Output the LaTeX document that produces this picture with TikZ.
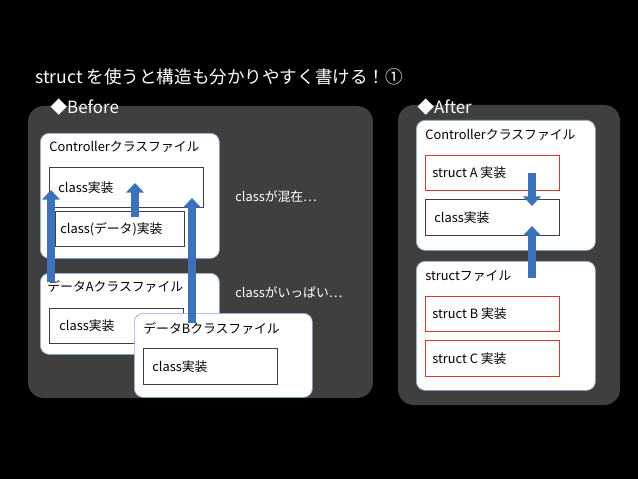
\documentclass[tikz,border=0pt]{standalone}
\usepackage{fontspec}
\setmainfont{Noto Sans CJK JP}
\usetikzlibrary{arrows.meta}
\definecolor{panelgray}{HTML}{3F3F3F}
\definecolor{arrowblue}{HTML}{3C72BA}
\definecolor{boxred}{HTML}{D03A3A}

\tikzset{
  panel/.style={fill=panelgray,rounded corners=9pt},
  filebox/.style={draw=arrowblue!60,fill=white,rounded corners=5pt,anchor=north west},
  implbox/.style={draw=black!75,fill=white,anchor=north west,inner sep=0pt},
  structbox/.style={implbox,draw=boxred},
  lbl/.style={font=\fontsize{7.3}{8}\selectfont,anchor=west,inner sep=0pt},
  note/.style={lbl,text=white},
  bigarrow/.style={draw=arrowblue,line width=4.6pt,-{Triangle[width=10pt,length=5.5pt]}}
}

\begin{document}
\begin{tikzpicture}[x=0.02cm,y=-0.02cm]
  \useasboundingbox[fill=black] (0,0) rectangle (638,479);
  % title
  \node[note,font=\fontsize{10}{12}\selectfont] (title) at (35,77) {struct を使うと構造も分かりやすく書ける！①};

  % before panel
  \fill[panel] (28,106) rectangle (373,398);
  \node[note,font=\fontsize{9.6}{11}\selectfont] (before) at (50,107) {◆Before};

  \node[filebox,minimum width=179*0.02cm,minimum height=125*0.02cm] (ctrl) at (40,133) {};
  \node[lbl] (ctrlt) at (49,147) {Controllerクラスファイル};
  \node[implbox,minimum width=154*0.02cm,minimum height=40*0.02cm] (cls) at (49,167) {};
  \node[lbl] at ([xshift=9*0.02cm]cls.west) {class実装};
  \node[implbox,minimum width=129*0.02cm,minimum height=35*0.02cm] (clsdata) at (55,211) {};
  \node[lbl] at ([xshift=5*0.02cm]clsdata.west) {class(データ)実装};

  \node[filebox,minimum width=179*0.02cm,minimum height=81*0.02cm] (fileA) at (40,273) {};
  \node[lbl] (fileAt) at (47,287) {データAクラスファイル};
  \node[implbox,minimum width=134*0.02cm,minimum height=35*0.02cm] (clsA) at (49,308) {};
  \node[lbl] at ([xshift=10*0.02cm]clsA.west) {class実装};

  \node[filebox,minimum width=178*0.02cm,minimum height=84*0.02cm] (fileB) at (134,313) {};
  \node[lbl] (fileBt) at (143,329) {データBクラスファイル};
  \node[implbox,minimum width=134*0.02cm,minimum height=36*0.02cm] (clsB) at (143,348) {};
  \node[lbl] at ([xshift=9*0.02cm]clsB.west) {class実装};

  \node[note] (mixed) at (235,197) {classが混在…};
  \node[note] (many) at (235,292) {classがいっぱい…};

  % after panel
  \fill[panel] (398,105) rectangle (620,405);
  \node[note,font=\fontsize{9.6}{11}\selectfont] (after) at (417,107) {◆After};

  \node[filebox,minimum width=179*0.02cm,minimum height=130*0.02cm] (ctrl2) at (416,120) {};
  \node[lbl] at (425,135) {Controllerクラスファイル};
  \node[structbox,minimum width=134*0.02cm,minimum height=35*0.02cm] (sA) at (425,155) {};
  \node[lbl] at ([xshift=7*0.02cm]sA.west) {struct A 実装};
  \node[implbox,minimum width=134*0.02cm,minimum height=36*0.02cm] (cls2) at (425,199) {};
  \node[lbl] at ([xshift=9*0.02cm]cls2.west) {class実装};

  \node[filebox,minimum width=179*0.02cm,minimum height=129*0.02cm] (sfile) at (416,261) {};
  \node[lbl] at (425,276) {structファイル};
  \node[structbox,minimum width=134*0.02cm,minimum height=35*0.02cm] (sB) at (425,296) {};
  \node[lbl] at ([xshift=7*0.02cm]sB.west) {struct B 実装};
  \node[structbox,minimum width=134*0.02cm,minimum height=36*0.02cm] (sC) at (425,340) {};
  \node[lbl] at ([xshift=7*0.02cm]sC.west) {struct C 実装};

  % arrows
  \coordinate (a1s) at (51,282);  \coordinate (a1e) at (51,190);
  \coordinate (a2s) at (135,217); \coordinate (a2e) at (135,183);
  \coordinate (a3s) at (192,323); \coordinate (a3e) at (192,198);
  \coordinate (a4s) at (532,173); \coordinate (a4e) at (532,206);
  \coordinate (a5s) at (532,278); \coordinate (a5e) at (532,226);
  \foreach \s/\e in {a1s/a1e,a2s/a2e,a3s/a3e,a4s/a4e,a5s/a5e}
    \draw[bigarrow] (\s) -- (\e);
\end{tikzpicture}
\end{document}
